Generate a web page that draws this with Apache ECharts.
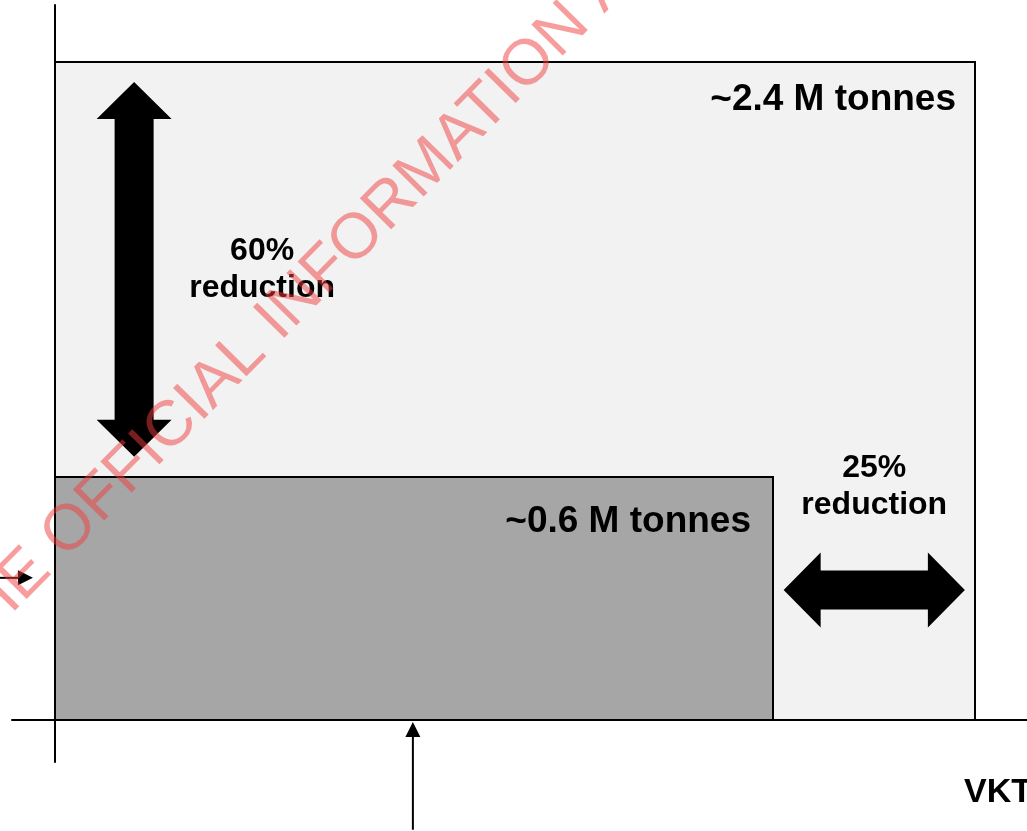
<!DOCTYPE html>
<html>
<head>
<meta charset="utf-8">
<title>Emissions vs VKT</title>
<script src="https://cdn.jsdelivr.net/npm/echarts@6/dist/echarts.min.js"></script>
<style>
  html, body { margin: 0; padding: 0; background: #fff; }
  #main { width: 1027px; height: 831px; }
</style>
</head>
<body>
<div id="main"></div>
<script>
// boxes: current vs target (VKT on x, emissions on y, relative units)
var boxVkt = [100, 78];
var boxEmissions = [100, 37];
var boxLabels = ["~2.4 M tonnes", "~0.6 M tonnes"];

// block double arrows [x1, y1, x2, y2]
var reductionArrows = [
  [8.6, 97, 8.6, 40],
  [79.2, 19.75, 98.9, 19.75]
];
var reductionLabels = ["60%\nreduction", "25%\nreduction"];

// thin pointer arrows [fromX, fromY, toX, toY]
var pointerArrows = [
  [38.9, -16.7, 38.9, -0.3],
  [-6.2, 21.6, -2.4, 21.6]
];

var xAxisName = "VKT";
var watermark = "RELEASED UNDER THE OFFICIAL INFORMATION ACT";

var FONT = "'Liberation Sans', Arial, Helvetica, sans-serif";
var boxFills = ["#f2f2f2", "#a6a6a6"];
var boxLabelInset = [[19, 38], [22, 45]];
var reductionLabelOffset = [[128, 0], [0, -103]];

var chart = echarts.init(document.getElementById("main"));

function renderBox(params, api) {
  var i = params.dataIndex;
  var p0 = api.coord([0, 0]);
  var p1 = api.coord([api.value(0), api.value(1)]);
  var x0 = Math.round(p0[0]), y0 = Math.round(p0[1]);
  var x1 = Math.round(p1[0]), y1 = Math.round(p1[1]);
  return {
    type: "group",
    children: [
      {
        type: "rect",
        shape: { x: x0, y: y1, width: x1 - x0, height: y0 - y1 },
        style: { fill: boxFills[i], stroke: "#000", lineWidth: 2 }
      },
      {
        type: "text",
        x: x1 - boxLabelInset[i][0],
        y: y1 + boxLabelInset[i][1],
        style: {
          text: boxLabels[i],
          fill: "#000",
          font: "bold 37px " + FONT,
          align: "right",
          verticalAlign: "middle"
        }
      }
    ]
  };
}

function renderBlockArrow(params, api) {
  var i = params.dataIndex;
  var a = api.coord([api.value(0), api.value(1)]);
  var b = api.coord([api.value(2), api.value(3)]);
  var dx = b[0] - a[0], dy = b[1] - a[1];
  var len = Math.sqrt(dx * dx + dy * dy);
  var ux = dx / len, uy = dy / len;
  var nx = -uy, ny = ux;
  var L = 37, H = 37.5, S = 19.5;
  var b1 = [a[0] + ux * L, a[1] + uy * L];
  var b2 = [b[0] - ux * L, b[1] - uy * L];
  function off(p, k) { return [p[0] + nx * k, p[1] + ny * k]; }
  var pts = [a, off(b1, H), off(b1, S), off(b2, S), off(b2, H), b,
             off(b2, -H), off(b2, -S), off(b1, -S), off(b1, -H)];
  var mid = [(a[0] + b[0]) / 2, (a[1] + b[1]) / 2];
  return {
    type: "group",
    children: [
      { type: "polygon", shape: { points: pts }, style: { fill: "#000" } },
      {
        type: "text",
        x: mid[0] + reductionLabelOffset[i][0],
        y: mid[1] + reductionLabelOffset[i][1],
        style: {
          text: reductionLabels[i],
          fill: "#000",
          font: "bold 32px " + FONT,
          lineHeight: 37,
          align: "center",
          verticalAlign: "middle"
        }
      }
    ]
  };
}

function renderPointer(params, api) {
  var a = api.coord([api.value(0), api.value(1)]);
  var b = api.coord([api.value(2), api.value(3)]);
  var dx = b[0] - a[0], dy = b[1] - a[1];
  var len = Math.sqrt(dx * dx + dy * dy);
  var ux = dx / len, uy = dy / len;
  var nx = -uy, ny = ux;
  var hl = 15, hw = 7.5;
  var base = [b[0] - ux * hl, b[1] - uy * hl];
  return {
    type: "group",
    children: [
      {
        type: "line",
        shape: { x1: a[0], y1: a[1], x2: base[0], y2: base[1] },
        style: { stroke: "#000", lineWidth: 2 }
      },
      {
        type: "polygon",
        shape: { points: [b, [base[0] + nx * hw, base[1] + ny * hw], [base[0] - nx * hw, base[1] - ny * hw]] },
        style: { fill: "#000" }
      }
    ]
  };
}

var option = {
  animation: false,
  backgroundColor: "#fff",
  grid: { left: 12, right: 0, top: 5, bottom: 69 },
  xAxis: {
    type: "value",
    min: -4.674,
    max: 105.652,
    axisLine: { show: true, onZero: true, lineStyle: { color: "#000", width: 2 } },
    axisTick: { show: false },
    axisLabel: { show: false },
    splitLine: { show: false }
  },
  yAxis: {
    type: "value",
    min: -6.4,
    max: 108.7,
    axisLine: { show: true, onZero: true, lineStyle: { color: "#000", width: 2 } },
    axisTick: { show: false },
    axisLabel: { show: false },
    splitLine: { show: false }
  },
  series: [
    {
      type: "custom",
      name: "Emissions",
      renderItem: renderBox,
      data: boxVkt.map(function (v, i) { return [v, boxEmissions[i]]; }),
      z: 3
    },
    {
      type: "custom",
      name: "Reduction",
      renderItem: renderBlockArrow,
      data: reductionArrows,
      z: 4
    },
    {
      type: "custom",
      name: "Pointers",
      renderItem: renderPointer,
      data: pointerArrows,
      z: 4
    }
  ],
  graphic: [
    {
      type: "text",
      x: 964,
      y: 793,
      z: 5,
      style: {
        text: xAxisName,
        fill: "#000",
        font: "bold 34px " + FONT,
        align: "left",
        verticalAlign: "middle"
      }
    },
    {
      type: "text",
      x: 66,
      y: 534,
      rotation: 45.4 * Math.PI / 180,
      z: 100,
      silent: true,
      style: {
        text: watermark,
        x: -769,
        y: 0,
        fill: "rgba(240, 60, 60, 0.5)",
        font: "64px " + FONT,
        align: "left",
        verticalAlign: "middle"
      }
    }
  ]
};

chart.setOption(option);
</script>
</body>
</html>
